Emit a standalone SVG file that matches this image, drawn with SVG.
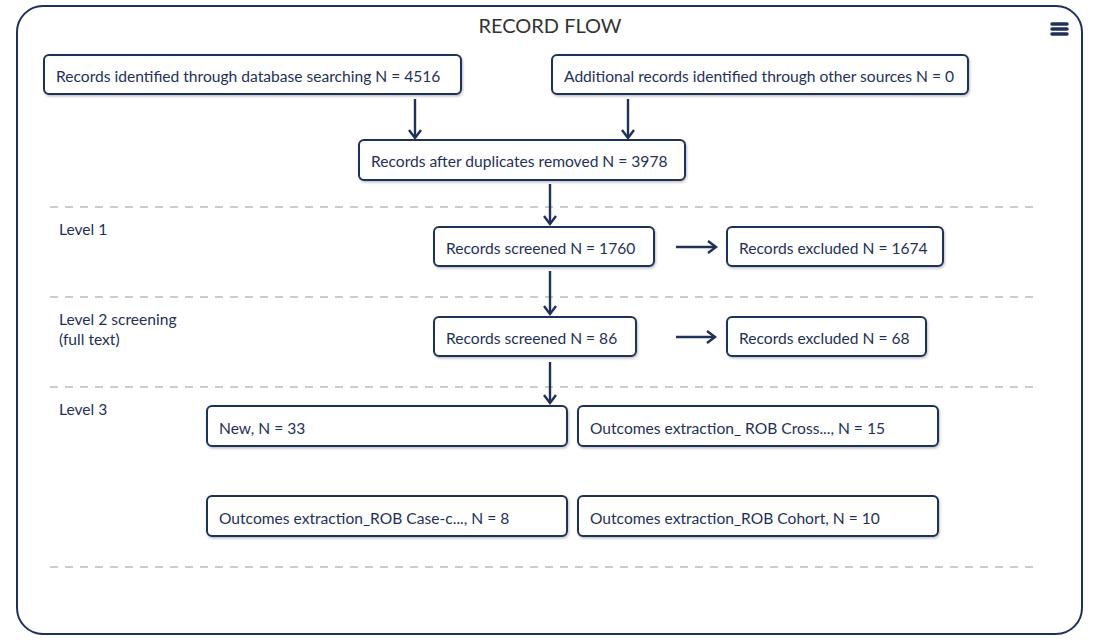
<svg xmlns="http://www.w3.org/2000/svg" width="1108" height="642" viewBox="0 0 1108 642">
<style>
.frame{fill:#fff;stroke:#1f3158;stroke-width:2}
.box{fill:#fff;stroke:#1f3158;stroke-width:2;filter:url(#sh)}
.t{font-family:Lato,"Open Sans","Liberation Sans",sans-serif;font-size:15.6px;fill:#1f3158}
.lvl{font-family:Lato,"Open Sans","Liberation Sans",sans-serif;font-size:15.6px;fill:#1f3158}
.title{font-family:Lato,"Open Sans","Liberation Sans",sans-serif;font-size:20px;fill:#333}
.dash{stroke:#ccc;stroke-width:2;stroke-dasharray:8 7}
.c{stroke:#1f3158;stroke-width:2.4;fill:none;marker-end:url(#ah)}
</style>
<defs>
<filter id="sh" x="-5%" y="-20%" width="110%" height="150%">
<feDropShadow dx="1" dy="1.5" stdDeviation="1.2" flood-color="#000" flood-opacity="0.25"/>
</filter>
<marker id="ah" viewBox="0 0 14 14" refX="12" refY="7" markerWidth="14" markerHeight="14" markerUnits="userSpaceOnUse" orient="auto">
<path d="M4,1 L12,7 L4,13" fill="none" stroke="#1f3158" stroke-width="2.4"/>
</marker>
</defs>
<rect width="1108" height="642" fill="#fff"/>
<rect class="frame" x="17" y="6" width="1065" height="628" rx="26"/>
<text class="title" x="550" y="33" text-anchor="middle">RECORD FLOW</text>
<g id="menu" stroke="#1f3158" stroke-width="3.5" stroke-linecap="round">
<line x1="1052" y1="24" x2="1067" y2="24"/>
<line x1="1052" y1="29" x2="1067" y2="29"/>
<line x1="1052" y1="34" x2="1067" y2="34"/>
</g>
<g id="levels">
<line class="dash" x1="50" y1="207" x2="1036" y2="207"/>
<line class="dash" x1="50" y1="297" x2="1036" y2="297"/>
<line class="dash" x1="50" y1="387" x2="1036" y2="387"/>
<line class="dash" x1="50" y1="567" x2="1036" y2="567"/>
<text class="lvl" x="59" y="235">Level 1</text>
<text class="lvl" x="59" y="325">Level 2 screening</text>
<text class="lvl" x="59" y="345">(full text)</text>
<text class="lvl" x="59" y="415">Level 3</text>
</g>
<g id="connectors">
<line class="c" x1="415" y1="99" x2="415" y2="138"/>
<line class="c" x1="628" y1="99" x2="628" y2="138"/>
<line class="c" x1="550" y1="184" x2="550" y2="224"/>
<line class="c" x1="550" y1="271" x2="550" y2="314"/>
<line class="c" x1="550" y1="362" x2="550" y2="403"/>
<line class="c" x1="676" y1="247" x2="716" y2="247"/>
<line class="c" x1="676" y1="337" x2="715" y2="337"/>
</g>
<g id="n1"><rect class="box" x="44" y="55" width="417" height="39" rx="5"/><text class="t" x="56" y="82">Records identified through database searching N = 4516</text></g>
<g id="n2"><rect class="box" x="552" y="55" width="416" height="39" rx="5"/><text class="t" x="564" y="82">Additional records identified through other sources N = 0</text></g>
<g id="n3"><rect class="box" x="359" y="140" width="326" height="40" rx="5"/><text class="t" x="371" y="167">Records after duplicates removed N = 3978</text></g>
<g id="n4"><rect class="box" x="434" y="227" width="220" height="39" rx="5"/><text class="t" x="446" y="254">Records screened N = 1760</text></g>
<g id="n5"><rect class="box" x="727" y="227" width="216" height="39" rx="5"/><text class="t" x="739" y="254">Records excluded N = 1674</text></g>
<g id="n6"><rect class="box" x="434" y="317" width="202" height="39" rx="5"/><text class="t" x="446" y="344">Records screened N = 86</text></g>
<g id="n7"><rect class="box" x="727" y="317" width="199" height="39" rx="5"/><text class="t" x="739" y="344">Records excluded N = 68</text></g>
<g id="n8"><rect class="box" x="207" y="406" width="360" height="40" rx="5"/><text class="t" x="219" y="434">New, N = 33</text></g>
<g id="n9"><rect class="box" x="578" y="406" width="360" height="40" rx="5"/><text class="t" x="590" y="434">Outcomes extraction_ ROB Cross..., N = 15</text></g>
<g id="n10"><rect class="box" x="207" y="496" width="360" height="40" rx="5"/><text class="t" x="219" y="524">Outcomes extraction_ROB Case-c..., N = 8</text></g>
<g id="n11"><rect class="box" x="578" y="496" width="360" height="40" rx="5"/><text class="t" x="590" y="524">Outcomes extraction_ROB Cohort, N = 10</text></g>
</svg>
